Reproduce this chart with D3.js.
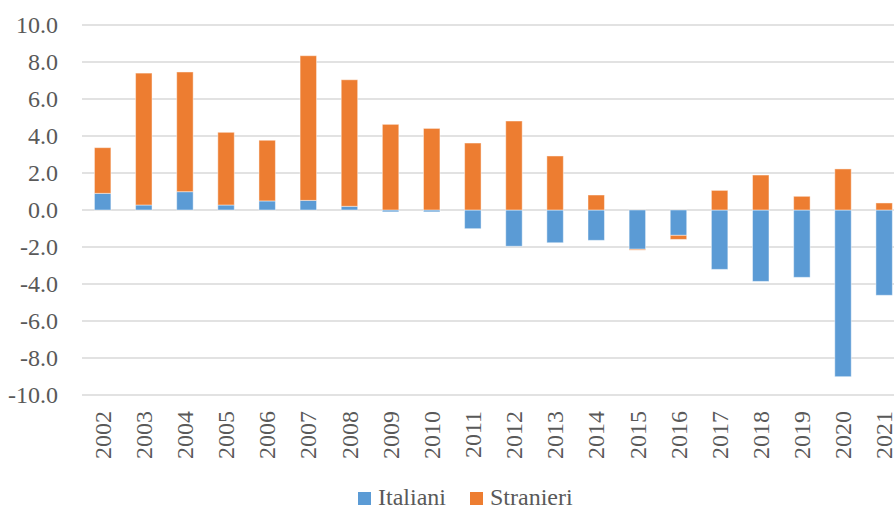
<!DOCTYPE html>
<html><head><meta charset="utf-8">
<script src="https://cdn.jsdelivr.net/npm/d3@7"></script>
<style>
body{margin:0}
.lbl{font-family:"Times New Roman";font-size:24px;fill:#595959;}
</style>
</head>
<body><svg id="c" width="894" height="508"></svg>
<script>
const years = ["2002","2003","2004","2005","2006","2007","2008","2009","2010","2011","2012","2013","2014","2015","2016","2017","2018","2019","2020","2021"];
const italiani = [0.90,0.27,0.99,0.27,0.49,0.52,0.20,-0.10,-0.10,-1.01,-1.96,-1.77,-1.64,-2.12,-1.37,-3.21,-3.86,-3.64,-9.01,-4.61];
const stranieri = [2.47,7.13,6.47,3.93,3.28,7.82,6.84,4.63,4.41,3.62,4.81,2.92,0.81,-0.05,-0.22,1.06,1.89,0.74,2.22,0.38];
const yTicks = [-10,-8,-6,-4,-2,0,2,4,6,8,10];
const seriesNames = ["Italiani","Stranieri"];
const colors = {Italiani:"#5B9BD5", Stranieri:"#ED7D31"};

const rows = years.map((y,i)=>({year:y, Italiani:italiani[i], Stranieri:stranieri[i]}));
const stack = d3.stack().keys(seriesNames).offset(d3.stackOffsetDiverging)(rows);

const svg = d3.select("#c");
const x = d3.scaleBand().domain(years).range([82.1, 904.7]).paddingInner(0.6).paddingOuter(0.3);
const y = d3.scaleLinear().domain([-10,10]).range([395,25]);

svg.append("g").selectAll("line").data(yTicks).join("line")
  .attr("x1",82).attr("x2",894)
  .attr("y1",d=>y(d)).attr("y2",d=>y(d))
  .attr("stroke","#d9d9d9").attr("stroke-width",1.5);

svg.append("g").selectAll("g").data(stack).join("g")
  .attr("fill",d=>colors[d.key])
  .selectAll("rect").data(d=>d).join("rect")
  .attr("x",d=>x(d.data.year))
  .attr("width",x.bandwidth())
  .attr("y",d=>y(Math.max(d[0],d[1])))
  .attr("height",d=>Math.abs(y(d[0])-y(d[1])))
  .attr("stroke","#ffffff").attr("stroke-opacity",0.45).attr("stroke-width",1);

svg.append("g").selectAll("text").data(yTicks).join("text")
  .attr("class","lbl")
  .attr("x",58).attr("y",d=>y(d)).attr("dy","0.33em")
  .attr("text-anchor","end")
  .text(d=>d.toFixed(1));

svg.append("g").selectAll("text").data(years).join("text")
  .attr("class","lbl")
  .attr("transform",d=>`translate(${x(d)+x.bandwidth()/2},411) rotate(-90)`)
  .attr("text-anchor","end").attr("dy","0.34em")
  .text(d=>d);

const legItems = [{name:"Italiani", sx:358, tx:378},{name:"Stranieri", sx:470, tx:490}];
const legend = svg.append("g");
legend.selectAll("rect").data(legItems).join("rect")
  .attr("x",d=>d.sx).attr("y",492).attr("width",13).attr("height",13)
  .attr("fill",d=>colors[d.name]);
legend.selectAll("text").data(legItems).join("text")
  .attr("class","lbl")
  .attr("x",d=>d.tx).attr("y",505)
  .text(d=>d.name);
</script></body></html>
